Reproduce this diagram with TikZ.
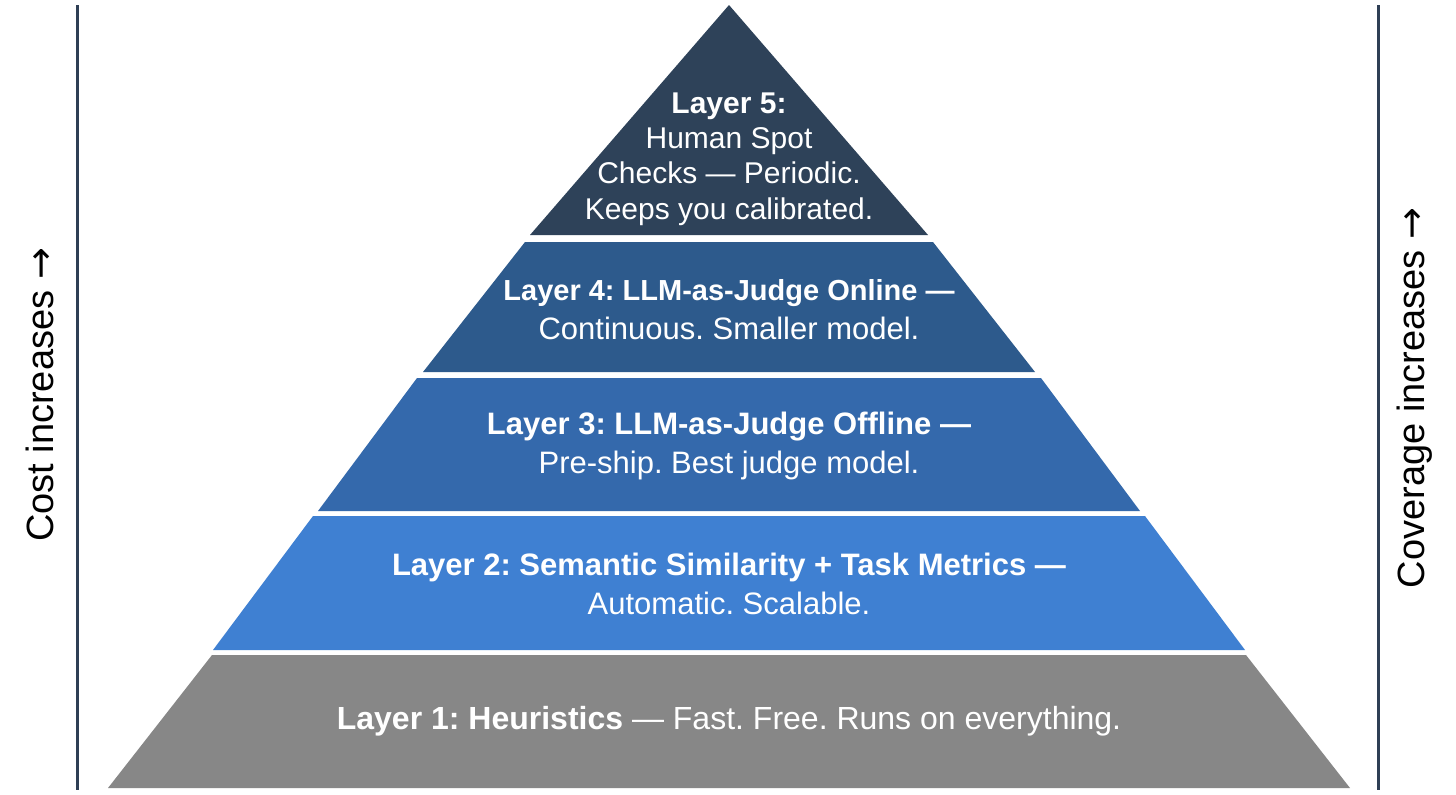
\documentclass[tikz,border=0pt]{standalone}
\usepackage{fontspec}
\setmainfont{Liberation Sans}
\newfontfamily\sidefont{Liberation Sans}
\newfontfamily\arrowfont{DejaVu Sans}
\usetikzlibrary{positioning}
\definecolor{apexslate}{HTML}{2E4259}
\definecolor{onlineblue}{HTML}{2D5A8C}
\definecolor{offlineblue}{HTML}{3469AC}
\definecolor{semblue}{HTML}{3F80D2}
\definecolor{heurgray}{HTML}{878787}
\definecolor{rulecolor}{HTML}{2E3F55}
\newcommand{\uparr}{{\arrowfont →}}
\frenchspacing

\begin{document}
\begin{tikzpicture}[x=0.5pt, y=-0.5pt]
        \tikzstyle{band} = [draw=none]
        \tikzstyle{layertext} = [text=white, align=center, inner sep=0pt, font=\fontsize{15.5}{19.5}\selectfont]
        \tikzstyle{side} = [rotate=90, inner sep=0pt, text=black, font=\sidefont\fontsize{19}{22}\selectfont]
        \tikzstyle{rule} = [draw=rulecolor, line width=1.5pt]

        \useasboundingbox (0,0) rectangle (1456,794);
        \fill[white] (0,0) rectangle (1456,794);

        % pyramid bands, bottom to top
        \fill[band, heurgray] (212,655) -- (1246,655) -- (1350,788) -- (108,788) -- cycle;
        \fill[band, semblue] (313,516) -- (1145,516) -- (1245,650) -- (213,650) -- cycle;
        \fill[band, offlineblue] (417,378) -- (1041,378) -- (1140,511) -- (318,511) -- cycle;
        \fill[band, onlineblue] (525,242) -- (933,242) -- (1035,372) -- (423,372) -- cycle;
        \fill[band, apexslate] (729,5) -- (928,235) -- (530,235) -- cycle;

        \node [layertext, font=\fontsize{15}{17.7}\selectfont] (five) at (729,159) {\textbf{Layer 5:}\\Human Spot\\Checks — Periodic.\\Keeps you calibrated.};
        \node [layertext] (four) at (729,310) {{\fontsize{14.5}{19.5}\selectfont\textbf{Layer 4: LLM-as-Judge Online —}}\\Continuous. Smaller model.};
        \node [layertext] (three) at (729,446) {\textbf{Layer 3: LLM-as-Judge Offline —}\\Pre-ship. Best judge model.};
        \node [layertext] (two) at (729,584) {\textbf{Layer 2: Semantic Similarity + Task Metrics —}\\Automatic. Scalable.};
        \node [layertext, font=\fontsize{16}{19}\selectfont] (one) at (729,721) {\textbf{Layer 1: Heuristics} — Fast. Free. Runs on everything.};

        \coordinate (costtop) at (77,5);
        \coordinate (costbottom) at (77,790);
        \coordinate (covtop) at (1378,5);
        \coordinate (covbottom) at (1378,790);
        \path [rule] (costtop) -- (costbottom);
        \path [rule] (covtop) -- (covbottom);

        \node [side] (cost) at (40,395) {Cost increases \uparr};
        \node [side] (coverage) at (1415,398) {Coverage increases \uparr};
    \end{tikzpicture}
\end{document}
